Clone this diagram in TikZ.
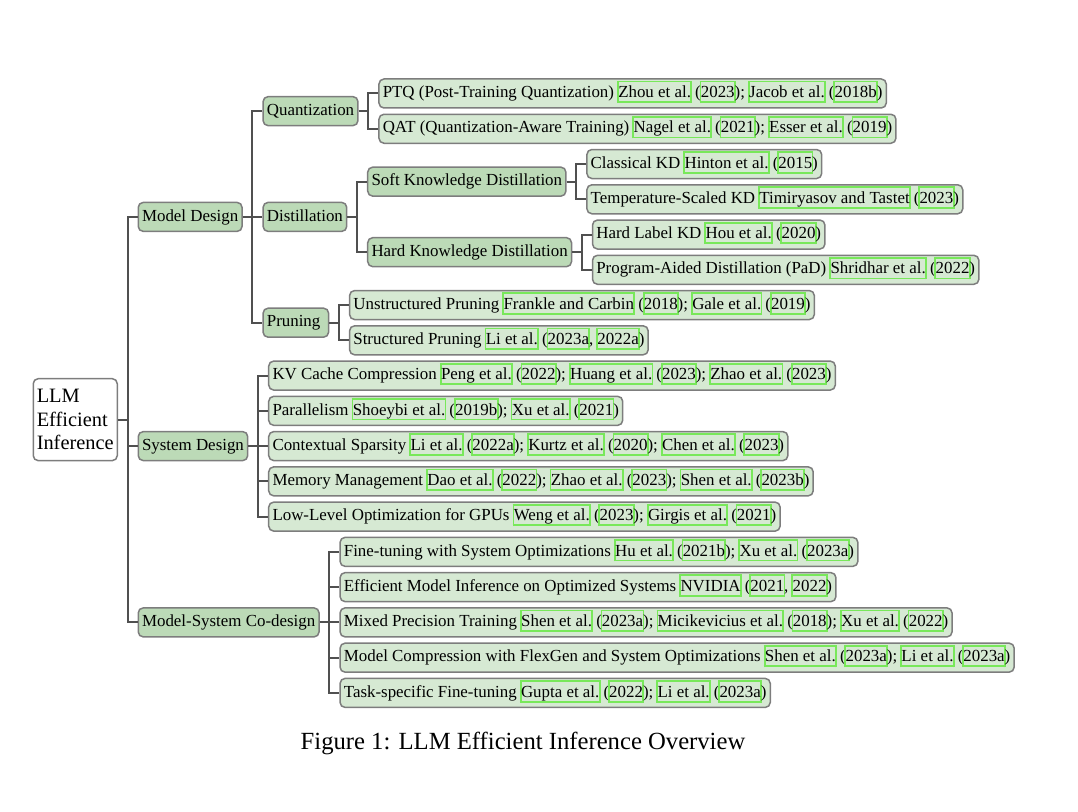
\documentclass[tikz,border=0pt]{standalone}
\usepackage{fontspec}
\setmainfont{Liberation Serif}
\usetikzlibrary{calc}
\definecolor{bordergray}{RGB}{125,125,125}
\definecolor{edgegray}{RGB}{80,80,80}
\definecolor{catgreen}{RGB}{188,218,183}
\definecolor{leafgreen}{RGB}{214,233,211}
\definecolor{citegreen}{RGB}{120,232,90}
\newlength\cbpad \setlength\cbpad{0.6pt}
\newlength\cbr \setlength\cbr{0.9pt}
\newlength\cbht \setlength\cbht{8.5pt}
\newlength\cbdp \setlength\cbdp{2.7pt}
\newcommand\cb[1]{\setbox0=\hbox{#1}\leavevmode
 \rlap{\kern-\cbpad\color{citegreen}%
  \rlap{\vrule width\dimexpr\wd0+2\cbpad\relax height\cbht depth -\dimexpr\cbht-\cbr\relax}%
  \rlap{\vrule width\dimexpr\wd0+2\cbpad\relax height -\dimexpr\cbdp-\cbr\relax depth\cbdp}%
  \rlap{\vrule width\cbr height\cbht depth\cbdp}%
  \kern\dimexpr\wd0+2\cbpad-\cbr\relax\vrule width\cbr height\cbht depth\cbdp}%
 \box0\relax}
\tikzset{
 nodebase/.style={draw=bordergray, line width=0.75pt, rounded corners=2.5pt, inner xsep=1.9pt, inner ysep=0pt, minimum height=14.5pt, text height=6.3pt, text depth=2.1pt, font=\fontsize{8.45}{10}\selectfont, anchor=west},
 catbox/.style={nodebase, fill=catgreen},
 leafbox/.style={nodebase, fill=leafgreen},
 rootbox/.style={draw=bordergray, line width=0.75pt, rounded corners=2.5pt, fill=white, align=left, font=\fontsize{10.2}{11.75}\selectfont, inner xsep=1.75pt, minimum height=41pt, minimum width=42pt, anchor=east},
 conn/.style={draw=edgegray, line width=1pt},
}
\begin{document}
\begin{tikzpicture}[x=0.5pt,y=-0.5pt]
\useasboundingbox (0,0) rectangle (1078,812);
% root
\node[rootbox] (root) at (118,419.66) {LLM\\Efficient\\Inference};
% level 1
\path (root.east) ++(19.5,0) coordinate (x1);
\node[catbox] (md) at (x1 |- 0,216.91) {Model Design};
\node[catbox] (sd) at (x1 |- 0,446.1) {System Design};
\node[catbox] (cd) at (x1 |- 0,622.4) {Model-System Co-design};
\foreach \c in {md,sd,cd} \draw[conn] (root.east) -- ++(9.5,0) |- (\c.west);
% level 2 under Model Design
\path (md.east) ++(19.5,0) coordinate (x2);
\node[catbox] (qu) at (x2 |- 0,111.13) {Quantization};
\node[catbox] (di) at (x2 |- 0,216.91) {Distillation};
\node[catbox] (pr) at (x2 |- 0,322.69) {Pruning\hspace*{2.2pt}};
\foreach \c in {qu,di,pr} \draw[conn] (md.east) -- ++(9.5,0) |- (\c.west);
% quantization leaves
\path (qu.east) ++(19.5,0) coordinate (xq);
\node[leafbox] (ptq) at (xq |- 0,93.5) {PTQ (Post-Training Quantization) \cb{Zhou et al.} (\cb{2023}); \cb{Jacob et al.} (\cb{2018b})};
\node[leafbox] (qat) at (xq |- 0,128.76) {QAT (Quantization-Aware Training) \cb{Nagel et al.} (\cb{2021}); \cb{Esser et al.} (\cb{2019})};
\foreach \c in {ptq,qat} \draw[conn] (qu.east) -- ++(9.5,0) |- (\c.west);
% distillation
\path (di.east) ++(19.5,0) coordinate (xd);
\node[catbox] (skd) at (xd |- 0,181.65) {Soft Knowledge Distillation};
\node[catbox] (hkd) at (xd |- 0,252.17) {Hard Knowledge Distillation};
\foreach \c in {skd,hkd} \draw[conn] (di.east) -- ++(9.5,0) |- (\c.west);
\path (skd.east) ++(19.5,0) coordinate (xs);
\node[leafbox] (ckd) at (xs |- 0,164.02) {Classical KD \cb{Hinton et al.} (\cb{2015})};
\node[leafbox] (tkd) at (xs |- 0,199.28) {Temperature-Scaled KD \cb{Timiryasov and Tastet} (\cb{2023})};
\foreach \c in {ckd,tkd} \draw[conn] (skd.east) -- ++(9.5,0) |- (\c.west);
\path (hkd.east) ++(19.5,0) coordinate (xh);
\node[leafbox] (hlkd) at (xh |- 0,234.54) {Hard Label KD \cb{Hou et al.} (\cb{2020})};
\node[leafbox] (pad) at (xh |- 0,269.8) {Program-Aided Distillation (PaD) \cb{Shridhar et al.} (\cb{2022})};
\foreach \c in {hlkd,pad} \draw[conn] (hkd.east) -- ++(9.5,0) |- (\c.west);
% pruning
\path (pr.east) ++(19.5,0) coordinate (xp);
\node[leafbox] (upr) at (xp |- 0,305.06) {Unstructured Pruning \cb{Frankle and Carbin} (\cb{2018}); \cb{Gale et al.} (\cb{2019})};
\node[leafbox] (spr) at (xp |- 0,340.32) {Structured Pruning \cb{Li et al.} (\cb{2023a}, \cb{2022a})};
\foreach \c in {upr,spr} \draw[conn] (pr.east) -- ++(9.5,0) |- (\c.west);
% system design
\path (sd.east) ++(19.5,0) coordinate (xsd);
\node[leafbox] (kv) at (xsd |- 0,375.58) {KV Cache Compression \cb{Peng et al.} (\cb{2022}); \cb{Huang et al.} (\cb{2023}); \cb{Zhao et al.} (\cb{2023})};
\node[leafbox] (par) at (xsd |- 0,410.84) {Parallelism \cb{Shoeybi et al.} (\cb{2019b}); \cb{Xu et al.} (\cb{2021})};
\node[leafbox] (ctx) at (xsd |- 0,446.1) {Contextual Sparsity \cb{Li et al.} (\cb{2022a}); \cb{Kurtz et al.} (\cb{2020}); \cb{Chen et al.} (\cb{2023})};
\node[leafbox] (mem) at (xsd |- 0,481.36) {Memory Management \cb{Dao et al.} (\cb{2022}); \cb{Zhao et al.} (\cb{2023}); \cb{Shen et al.} (\cb{2023b})};
\node[leafbox] (llo) at (xsd |- 0,516.62) {Low-Level Optimization for GPUs \cb{Weng et al.} (\cb{2023}); \cb{Girgis et al.} (\cb{2021})};
\foreach \c in {kv,par,ctx,mem,llo} \draw[conn] (sd.east) -- ++(9.5,0) |- (\c.west);
% co-design
\path (cd.east) ++(19.5,0) coordinate (xc);
\node[leafbox] (fts) at (xc |- 0,551.88) {Fine-tuning with System Optimizations \cb{Hu et al.} (\cb{2021b}); \cb{Xu et al.} (\cb{2023a})};
\node[leafbox] (emi) at (xc |- 0,587.14) {Efficient Model Inference on Optimized Systems \cb{NVIDIA} (\cb{2021}, \cb{2022})};
\node[leafbox] (mpt) at (xc |- 0,622.4) {Mixed Precision Training \cb{Shen et al.} (\cb{2023a}); \cb{Micikevicius et al.} (\cb{2018}); \cb{Xu et al.} (\cb{2022})};
\node[leafbox] (mcf) at (xc |- 0,657.66) {Model Compression with FlexGen and System Optimizations \cb{Shen et al.} (\cb{2023a}); \cb{Li et al.} (\cb{2023a})};
\node[leafbox] (tsf) at (xc |- 0,692.92) {Task-specific Fine-tuning \cb{Gupta et al.} (\cb{2022}); \cb{Li et al.} (\cb{2023a})};
\foreach \c in {fts,emi,mpt,mcf,tsf} \draw[conn] (cd.east) -- ++(9.5,0) |- (\c.west);
% caption
\node[font=\fontsize{12.33}{14}\selectfont, anchor=base, inner sep=0pt] (cap) at (523,750) {Figure 1: LLM Efficient Inference Overview};
\end{tikzpicture}
\end{document}
